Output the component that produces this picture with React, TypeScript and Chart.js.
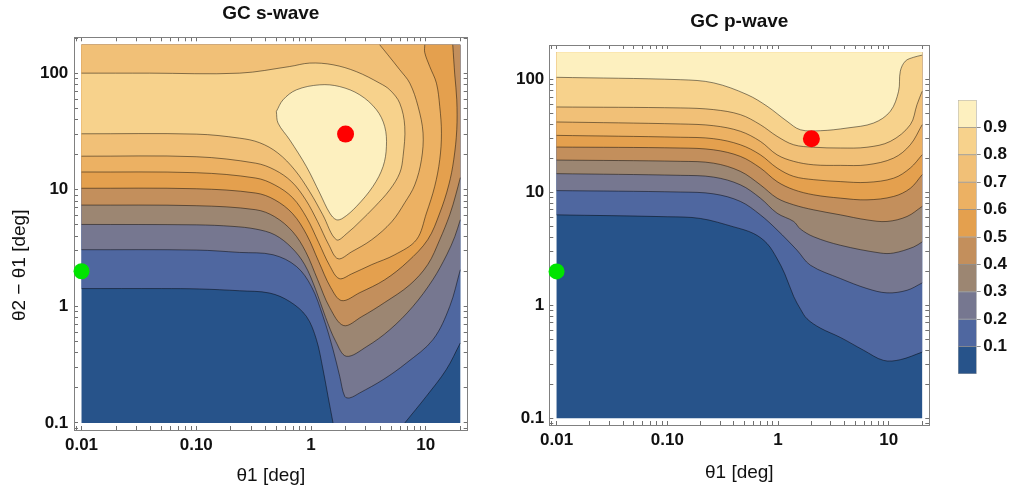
import React, { useEffect, useRef } from 'react';
import { Chart, registerables } from 'chart.js';

Chart.register(...registerables);

type Pt = [number, number];

// ---- axis / data ranges ----
const axisXRange: Pt = [0.0086, 23.2];
const axisYRange: Pt = [0.087, 203];
const dataXRange: Pt = [0.01, 20];
const dataYRange: Pt = [0.1, 175];

// ---- tick labels ----
const xMajorTicks = [0.01, 0.1, 1, 10];
const xTickLabels = ['0.01', '0.10', '1', '10'];
const yMajorTicks = [0.1, 1, 10, 100];
const yTickLabels = ['0.1', '1', '10', '100'];
const decades = [0.001, 0.01, 0.1, 1, 10, 100];
const minorSteps = [1, 2, 3, 4, 5, 6, 7, 8, 9];

// ---- contour levels / colour bar ----
const contourLevels = [0.1, 0.2, 0.3, 0.4, 0.5, 0.6, 0.7, 0.8, 0.9];
const levelLabels = ['0.1', '0.2', '0.3', '0.4', '0.5', '0.6', '0.7', '0.8', '0.9'];
const barEdges = [0, 0.1, 0.2, 0.3, 0.4, 0.5, 0.6, 0.7, 0.8, 0.9, 1.0];
const levelColors = ['#27538a', '#4f67a0', '#767790', '#9c8672', '#c38f5c', '#e4a04e', '#ecb163', '#f1c077', '#f7d28c', '#fdf0bf'];

// ---- GC s-wave contour lines (theta1, theta2-theta1) ----
const sWave01a: Pt[] = [[0.01, 1.42], [0.05, 1.42], [0.107, 1.41], [0.239, 1.36], [0.436, 1.3], [0.652, 1.1], [0.912, 0.82], [1.114, 0.52], [1.273, 0.287], [1.407, 0.169], [1.556, 0.1]];
const sWave01b: Pt[] = [[6.56, 0.1], [10.1, 0.169], [15.1, 0.287], [20, 0.485]];
const sWave02: Pt[] = [[0.01, 3.06], [0.1, 3.04], [0.239, 2.9], [0.467, 2.77], [0.746, 2.2], [1.008, 1.48], [1.273, 0.82], [1.556, 0.426], [1.779, 0.251], [1.967, 0.169], [2.175, 0.164], [2.659, 0.181], [4.244, 0.235], [6.79, 0.327], [11.58, 0.52], [16.19, 1.0], [20, 2.06]];
const sWave03: Pt[] = [[0.01, 5.04], [0.1, 5.0], [0.209, 4.85], [0.33, 4.6], [0.483, 4.11], [0.679, 3.18], [0.881, 2.28], [1.099, 1.39], [1.343, 0.8], [1.642, 0.5], [2.035, 0.373], [3.06, 0.452], [4.857, 0.63], [7.7, 0.994], [11.51, 1.69], [15.24, 2.77], [17.9, 3.96], [20, 5.53]];
const sWave04: Pt[] = [[0.01, 7.39], [0.1, 7.3], [0.33, 6.74], [0.483, 5.87], [0.692, 4.37], [0.899, 2.94], [1.143, 1.69], [1.456, 0.975], [1.927, 0.684], [2.766, 0.816], [4.39, 1.08], [7.26, 1.53], [10.4, 2.28], [13.24, 3.73], [16.19, 6.11], [18.27, 9.06], [20, 12.7]];
const sWave05: Pt[] = [[0.01, 10.3], [0.1, 10.2], [0.33, 9.37], [0.483, 8.2], [0.692, 6.23], [0.917, 4.11], [1.167, 2.42], [1.485, 1.45], [1.852, 1.12], [2.659, 1.31], [4.39, 1.69], [6.97, 2.42], [10.4, 3.73], [13.24, 6.31], [15.87, 11.0], [17.53, 18.1], [18.63, 32.7], [18.63, 59.0], [17.9, 96.7], [17.19, 175]];
const sWave06: Pt[] = [[0.01, 14.2], [0.1, 14.0], [0.33, 12.6], [0.483, 11.0], [0.692, 8.54], [0.917, 5.75], [1.167, 3.52], [1.456, 2.23], [1.761, 1.73], [2.264, 1.9], [3.384, 2.28], [5.37, 2.77], [8.3, 3.73], [10.14, 6.31], [11.97, 10.7], [13.24, 18.1], [13.7, 30.6], [13.24, 51.8], [12.39, 82.0], [10.83, 114], [9.8, 150], [9.8, 175]];
const sWave07: Pt[] = [[0.01, 19.4], [0.1, 19.2], [0.33, 16.9], [0.483, 14.8], [0.679, 11.7], [0.899, 8.2], [1.143, 5.32], [1.427, 3.38], [1.719, 2.56], [2.264, 2.94], [3.384, 3.73], [5.054, 5.32], [6.561, 7.74], [8.02, 11.0], [9.17, 18.1], [9.47, 30.6], [8.57, 51.8], [7.26, 82.0], [5.93, 107], [4.665, 144], [3.97, 175]];
const sWave08: Pt[] = [[0.01, 30.2], [0.1, 30.0], [0.239, 27.7], [0.357, 25.3], [0.513, 20.7], [0.721, 14.8], [0.975, 9.61], [1.265, 6.11], [1.664, 3.73], [2.089, 4.28], [2.659, 5.32], [3.592, 7.15], [4.857, 10.0], [5.93, 13.9], [6.34, 19.3], [6.561, 34.8], [5.93, 55.3], [4.857, 71.9], [3.97, 82.0], [2.488, 103], [1.556, 118], [0.975, 122], [0.652, 114], [0.239, 100], [0.0393, 100], [0.01, 100]];
const sWave09: Pt[] = [[0.499, 46.9], [0.57, 59.0], [0.746, 71.9], [1.191, 79.4], [1.779, 76.7], [2.659, 65.2], [3.72, 48.5], [4.39, 34.8], [4.541, 23.5], [4.244, 15.8], [3.47, 10.7], [2.488, 7.19], [1.901, 5.72], [1.664, 5.53], [1.456, 6.31], [1.191, 9.37], [0.912, 15.8], [0.652, 26.8], [0.516, 37.3], [0.499, 46.9]];

// ---- GC p-wave contour lines ----
const pWave01: Pt[] = [[0.01, 6.34], [0.1, 6.1], [0.199, 5.89], [0.398, 4.96], [0.602, 4.33], [0.796, 3.53], [0.979, 2.6], [1.15, 1.9], [1.383, 1.2], [1.6, 0.92], [1.826, 0.76], [2.4, 0.63], [3.648, 0.52], [5.92, 0.4], [8.98, 0.325], [12.7, 0.33], [20, 0.385]];
const pWave02: Pt[] = [[0.01, 10.4], [0.131, 10.1], [0.262, 9.73], [0.457, 8.34], [0.692, 6.34], [0.979, 4.67], [1.484, 3.08], [1.957, 2.27], [3.648, 1.73], [6.35, 1.41], [9.63, 1.29], [14.59, 1.36], [20, 1.58]];
const pWave03: Pt[] = [[0.01, 14.7], [0.131, 14.2], [0.262, 13.7], [0.457, 11.7], [0.692, 8.92], [0.979, 6.56], [1.383, 5.54], [1.589, 4.75], [2.1, 4.05], [3.648, 3.41], [8.38, 2.91], [11.05, 2.91], [16.75, 3.29], [20, 3.65]];
const pWave04: Pt[] = [[0.01, 19.4], [0.131, 18.9], [0.262, 18.2], [0.457, 15.4], [0.692, 11.7], [0.979, 8.92], [1.383, 7.78], [2.096, 7.02], [3.648, 6.34], [6.35, 5.72], [9.63, 5.54], [14.59, 6.13], [20, 7.53]];
const pWave05: Pt[] = [[0.01, 25.3], [0.131, 24.8], [0.262, 23.9], [0.457, 20.9], [0.692, 16.5], [0.979, 12.5], [1.383, 10.6], [2.096, 9.54], [3.648, 8.92], [6.35, 8.61], [11.05, 9.23], [15.63, 10.9], [20, 14.4]];
const pWave06: Pt[] = [[0.01, 32.1], [0.131, 30.9], [0.262, 30.0], [0.457, 26.5], [0.692, 21.6], [0.979, 16.5], [1.383, 13.9], [2.096, 13.0], [3.648, 12.5], [6.35, 12.3], [11.05, 13.4], [15.63, 16.5], [20, 21.6]];
const pWave07: Pt[] = [[0.01, 42.2], [0.131, 40.5], [0.262, 39.1], [0.457, 34.9], [0.692, 28.4], [0.979, 21.6], [1.383, 18.9], [2.096, 17.6], [3.648, 17.4], [6.35, 17.6], [11.05, 20.2], [15.63, 26.5], [20, 39.9]];
const pWave08: Pt[] = [[0.01, 57.3], [0.131, 56.2], [0.262, 54.3], [0.457, 49.0], [0.692, 39.9], [0.979, 31.5], [1.383, 26.5], [2.096, 25.2], [3.648, 24.8], [6.35, 25.2], [10.32, 28.4], [15.63, 39.9], [17.96, 60.1], [20, 79.0]];
const pWave09: Pt[] = [[0.01, 105], [0.131, 100], [0.262, 93.7], [0.525, 73.8], [0.796, 58.2], [1.205, 42.8], [1.589, 36.0], [2.408, 35.3], [4.195, 37.3], [7.29, 41.3], [10.32, 52.5], [12.25, 79.0], [12.7, 119], [14.09, 146], [16.75, 158], [20, 165]];

// ---- markers ----
const redPoint: Pt[] = [[2, 30]];
const greenPoint: Pt[] = [[0.01, 2]];

// ---- region definitions (superlevel sets) ----
const BL: Pt = [dataXRange[0], dataYRange[0]];
const BR: Pt = [dataXRange[1], dataYRange[0]];
const TR: Pt = [dataXRange[1], dataYRange[1]];
const TL: Pt = [dataXRange[0], dataYRange[1]];

const sWaveRegions: Pt[][][] = [
  [[BL], [BR], [TR], [TL]],
  [sWave01a, sWave01b, [TR], [TL]],
  [sWave02, [TR], [TL]],
  [sWave03, [TR], [TL]],
  [sWave04, [TR], [TL]],
  [sWave05, [TL]],
  [sWave06, [TL]],
  [sWave07, [TL]],
  [sWave08],
  [sWave09],
];
const sWaveLines: Pt[][] = [sWave01a, sWave01b, sWave02, sWave03, sWave04, sWave05, sWave06, sWave07, sWave08, sWave09];

const pWaveLines: Pt[][] = [pWave01, pWave02, pWave03, pWave04, pWave05, pWave06, pWave07, pWave08, pWave09];
const pWaveRegions: Pt[][][] = [[[BL], [BR], [TR], [TL]], ...pWaveLines.map((c) => [c, [TR], [TL]])];

// ---- styling ----
const FONT_FAMILY = '"Liberation Sans", Arial, Helvetica, sans-serif';
const FRAME_COLOR = '#808080';
const TICK_COLOR = '#707070';
const LINE_COLOR = 'rgba(0,0,0,0.52)';
const TEXT_COLOR = '#111111';
const TENSION = 0.35;
const TITLE_SIZE = 19;
const AXIS_TITLE_SIZE = 19;
const TICK_SIZE = 17;

const pts = (a: Pt[]) => a.map(([x, y]) => ({ x, y }));

function regionPath(parts: Pt[][]) {
  const out: Pt[] = [];
  for (const part of parts) {
    out.push(part[0], ...part, part[part.length - 1]);
  }
  return pts(out);
}

function tickValuesIn(range: Pt) {
  const out: number[] = [];
  for (const d of decades) {
    for (const m of minorSteps) {
      const v = Number((d * m).toPrecision(6));
      if (v >= range[0] && v <= range[1]) out.push(v);
    }
  }
  return out;
}

function labelFor(v: number, majors: number[], labels: string[]) {
  const i = majors.findIndex((m) => Math.abs(v - m) < m * 1e-6);
  return i >= 0 ? labels[i] : '';
}

function logAxis(position: string, size: number, showLabels: boolean, labelPad: number, title?: any) {
  const horizontal = position === 'top' || position === 'bottom';
  const range = horizontal ? axisXRange : axisYRange;
  const majors = horizontal ? xMajorTicks : yMajorTicks;
  const labels = horizontal ? xTickLabels : yTickLabels;
  const values = tickValuesIn(range);
  return {
    type: 'logarithmic',
    position,
    min: range[0],
    max: range[1],
    bounds: 'data',
    afterBuildTicks: (s: any) => {
      s.ticks = values.map((v) => ({ value: v }));
    },
    afterFit: (s: any) => {
      if (horizontal) s.height = size;
      else s.width = size;
    },
    ticks: {
      display: showLabels,
      autoSkip: false,
      maxRotation: 0,
      minRotation: 0,
      padding: labelPad,
      color: TEXT_COLOR,
      font: { family: FONT_FAMILY, size: TICK_SIZE, weight: 'bold' },
      callback: (v: any) => labelFor(Number(v), majors, labels),
    },
    grid: { display: true, drawOnChartArea: false, drawTicks: true, tickLength: -4, color: TICK_COLOR, lineWidth: 1 },
    border: { display: true, color: FRAME_COLOR, width: 1 },
    title: title || { display: false },
  };
}

interface PlotSpec {
  title: string;
  titlePadTop: number;
  regions: Pt[][][];
  lines: Pt[][];
  leftW: number;
  rightW: number;
  topH: number;
  bottomH: number;
  xLabelPad: number;
  yLabelPad: number;
  xTitlePadBottom: number;
  yTitle?: string;
  yTitlePadTop?: number;
}

function plotConfig(spec: PlotSpec): any {
  const regionSets = spec.regions.map((parts, k) => ({
    data: regionPath(parts),
    showLine: true,
    fill: 'shape',
    backgroundColor: levelColors[k],
    borderWidth: 0,
    pointRadius: 0,
    pointHoverRadius: 0,
    tension: TENSION,
    order: 100 - k,
    xAxisID: 'x',
    yAxisID: 'y',
  }));
  const lineSets = spec.lines.map((c) => ({
    data: pts(c),
    showLine: true,
    fill: false,
    borderColor: LINE_COLOR,
    borderWidth: 0.9,
    pointRadius: 0,
    pointHoverRadius: 0,
    tension: TENSION,
    order: 10,
    xAxisID: 'x',
    yAxisID: 'y',
  }));
  const markerSets = [
    { data: pts(redPoint), backgroundColor: '#ff0000', borderWidth: 0, pointRadius: 8.5, showLine: false, order: 1, clip: false, xAxisID: 'x', yAxisID: 'y' },
    { data: pts(greenPoint), backgroundColor: '#00e400', borderWidth: 0, pointRadius: 8, showLine: false, order: 1, clip: false, xAxisID: 'x', yAxisID: 'y' },
  ];
  const yTitle = spec.yTitle
    ? {
        display: true,
        text: spec.yTitle,
        color: TEXT_COLOR,
        font: { family: FONT_FAMILY, size: AXIS_TITLE_SIZE },
        padding: { top: spec.yTitlePadTop || 0, bottom: 0 },
      }
    : undefined;
  return {
    type: 'scatter',
    data: { datasets: [...regionSets, ...lineSets, ...markerSets] },
    options: {
      animation: false,
      responsive: false,
      maintainAspectRatio: false,
      events: [],
      layout: { padding: 0, autoPadding: false },
      plugins: {
        legend: { display: false },
        tooltip: { enabled: false },
        title: {
          display: true,
          text: spec.title,
          color: TEXT_COLOR,
          fullSize: false,
          font: { family: FONT_FAMILY, size: TITLE_SIZE, weight: 'bold' },
          padding: { top: spec.titlePadTop, bottom: 0 },
        },
      },
      scales: {
        x: logAxis('bottom', spec.bottomH, true, spec.xLabelPad, {
          display: true,
          text: 'θ1 [deg]',
          color: TEXT_COLOR,
          font: { family: FONT_FAMILY, size: AXIS_TITLE_SIZE },
          padding: { top: 0, bottom: spec.xTitlePadBottom },
        }),
        x2: logAxis('top', spec.topH, false, 0),
        y: logAxis('left', spec.leftW, true, spec.yLabelPad, yTitle),
        y2: logAxis('right', spec.rightW, false, 0),
      },
    },
  };
}

function colorbarConfig(): any {
  const datasets = levelColors.map((c, k) => ({
    data: [[barEdges[k], barEdges[k + 1]]],
    backgroundColor: c,
    borderColor: 'rgba(70,70,70,0.45)',
    borderWidth: 0.8,
    borderSkipped: false,
    barPercentage: 1,
    categoryPercentage: 1,
    grouped: false,
  }));
  return {
    type: 'bar',
    data: { labels: [''], datasets },
    options: {
      animation: false,
      responsive: false,
      maintainAspectRatio: false,
      events: [],
      layout: { padding: { left: 18, top: 100, bottom: 115, right: 0 }, autoPadding: false },
      plugins: { legend: { display: false }, tooltip: { enabled: false }, title: { display: false } },
      scales: {
        x: { display: false },
        y: {
          type: 'linear',
          position: 'right',
          min: 0,
          max: 1,
          afterBuildTicks: (s: any) => {
            s.ticks = contourLevels.map((v) => ({ value: v }));
          },
          afterFit: (s: any) => {
            s.width = 37.3;
          },
          ticks: {
            autoSkip: false,
            padding: 2.6,
            color: TEXT_COLOR,
            font: { family: FONT_FAMILY, size: TICK_SIZE, weight: 'bold' },
            callback: (v: any) => labelFor(Number(v), contourLevels, levelLabels),
          },
          grid: { drawOnChartArea: false, drawTicks: true, tickLength: 4, color: '#8a8a8a' },
          border: { display: false },
        },
      },
    },
  };
}

export default function App() {
  const leftRef = useRef<HTMLCanvasElement>(null);
  const rightRef = useRef<HTMLCanvasElement>(null);
  const barRef = useRef<HTMLCanvasElement>(null);

  useEffect(() => {
    const charts: Chart[] = [];
    // title line height = 19 * 1.2 = 22.8
    if (leftRef.current) {
      charts.push(
        new Chart(
          leftRef.current,
          plotConfig({
            title: 'GC s-wave',
            titlePadTop: 2.8,
            regions: sWaveRegions,
            lines: sWaveLines,
            leftW: 74,
            rightW: 32.3,
            topH: 11.7,
            bottomH: 59,
            xLabelPad: 8.8,
            yLabelPad: 9.7,
            xTitlePadBottom: 2.1,
            yTitle: 'θ2 − θ1 [deg]            ',
            yTitlePadTop: 8.6,
          })
        )
      );
    }
    if (rightRef.current) {
      charts.push(
        new Chart(
          rightRef.current,
          plotConfig({
            title: 'GC p-wave',
            titlePadTop: 10.6,
            regions: pWaveRegions,
            lines: pWaveLines,
            leftW: 49.3,
            rightW: 10.7,
            topH: 11.6,
            bottomH: 64,
            xLabelPad: 8.8,
            yLabelPad: 9,
            xTitlePadBottom: 5.1,
          })
        )
      );
    }
    if (barRef.current) {
      charts.push(new Chart(barRef.current, colorbarConfig()));
    }
    return () => charts.forEach((c) => c.destroy());
  }, []);

  return (
    <div style={{ position: 'absolute', left: 0, top: 0, width: 1014, height: 489, background: '#ffffff', overflow: 'hidden' }}>
      <canvas ref={leftRef} width={500} height={489} style={{ position: 'absolute', left: 0, top: 0 }} />
      <canvas ref={rightRef} width={440} height={489} style={{ position: 'absolute', left: 500, top: 0 }} />
      <canvas ref={barRef} width={74} height={489} style={{ position: 'absolute', left: 940, top: 0 }} />
    </div>
  );
}
